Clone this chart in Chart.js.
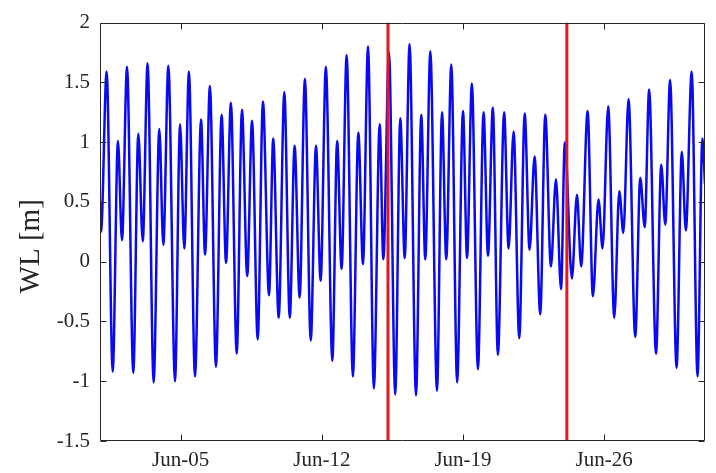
<!DOCTYPE html>
<html>
<head>
<meta charset="utf-8">
<script src="https://cdn.jsdelivr.net/npm/chart.js@4/dist/chart.umd.min.js"></script>
<style>
  html, body { margin: 0; padding: 0; background: #ffffff; }
  #wrap { width: 716px; height: 473px; }
</style>
</head>
<body>
<div id="wrap"><canvas id="c" width="716" height="473"></canvas></div>
<script>
// Time in days since Jun-01 00:00 (high/low water turning points)
const tideDay = [0.00, 0.05, 0.33, 0.63, 0.89, 1.09, 1.34, 1.65, 1.90, 2.12,
  2.36, 2.66, 2.94, 3.14, 3.39, 3.72, 3.97, 4.18, 4.41, 4.71,
  5.01, 5.21, 5.45, 5.75, 6.03, 6.25, 6.49, 6.78, 7.04, 7.30,
  7.54, 7.82, 8.08, 8.38, 8.59, 8.86, 9.14, 9.41, 9.65, 9.90,
  10.16, 10.45, 10.71, 10.94, 11.20, 11.52, 11.76, 11.98, 12.23, 12.54,
  12.81, 13.04, 13.29, 13.58, 13.87, 14.05, 14.33, 14.64, 14.89, 15.11,
  15.35, 15.67, 15.93, 16.13, 16.38, 16.71, 16.96, 17.17, 17.42, 17.71,
  18.00, 18.20, 18.44, 18.74, 19.02, 19.24, 19.48, 19.73, 20.04, 20.26,
  20.51, 20.79, 21.06, 21.30, 21.55, 21.83, 22.08, 22.36, 22.61, 22.86,
  23.05, 23.40, 23.65, 23.86, 24.18, 24.44, 24.72, 24.92, 25.20, 25.50,
  25.75, 25.95, 26.21, 26.54, 26.79, 27.01, 27.23, 27.57, 27.83, 28.03,
  28.27, 28.59, 28.85, 29.05, 29.34, 29.63, 29.87, 30.00];

// Water level [m]
const tideWL = [0.50, 0.25, 1.59, -0.92, 1.01, 0.18, 1.63, -0.93, 1.07, 0.17,
  1.66, -1.01, 1.11, 0.14, 1.64, -1.00, 1.15, 0.11, 1.59, -0.96,
  1.19, 0.06, 1.47, -0.88, 1.23, -0.01, 1.33, -0.77, 1.27, -0.12,
  1.18, -0.65, 1.34, -0.28, 1.03, -0.47, 1.42, -0.47, 0.97, -0.30,
  1.53, -0.66, 0.97, -0.16, 1.63, -0.83, 1.01, -0.06, 1.73, -0.96,
  1.08, -0.02, 1.80, -1.06, 1.15, 0.02, 1.75, -1.11, 1.20, 0.03,
  1.82, -1.12, 1.23, 0.02, 1.76, -1.08, 1.25, 0.02, 1.65, -1.01,
  1.26, 0.03, 1.49, -0.90, 1.25, 0.05, 1.29, -0.78, 1.25, 0.11,
  1.09, -0.64, 1.24, 0.10, 0.88, -0.44, 1.23, -0.04, 0.69, -0.23,
  1.00, -0.14, 0.56, -0.04, 1.26, -0.29, 0.52, 0.11, 1.30, -0.47,
  0.59, 0.24, 1.36, -0.63, 0.70, 0.29, 1.44, -0.77, 0.81, 0.31,
  1.52, -0.89, 0.92, 0.26, 1.59, -0.96, 1.03, 0.65];

// Red marker lines (days since Jun-01 00:00)
const markerDays = [14.28, 23.15];

// Axis ticks
const xTickDays = [4, 11, 18, 25];
const xTickLabels = ['Jun-05', 'Jun-12', 'Jun-19', 'Jun-26'];
const yTicks = [-1.5, -1, -0.5, 0, 0.5, 1, 1.5, 2];
const yTickLabels = ['-1.5', '-1', '-0.5', '0', '0.5', '1', '1.5', '2'];
const xRange = [0, 30];
const yRange = [-1.5, 2];

const AXIS_COLOR = '#262626';
const FONT = '"Liberation Serif", "DejaVu Serif", serif';

const framePlugin = {
  id: 'matlabFrame',
  afterDraw(chart) {
    const { ctx, chartArea: a, scales } = chart;
    const L = Math.round(a.left) + 0.5, R = Math.round(a.right) - 0.5;
    const T = Math.round(a.top) + 0.5, B = Math.round(a.bottom) - 0.5;
    const tl = 6;
    ctx.save();
    ctx.strokeStyle = AXIS_COLOR;
    ctx.lineWidth = 1;
    ctx.beginPath();
    ctx.rect(L, T, R - L, B - T);
    scales.x.ticks.forEach(t => {
      const px = Math.round(scales.x.getPixelForValue(t.value)) + 0.5;
      ctx.moveTo(px, B); ctx.lineTo(px, B - tl);
      ctx.moveTo(px, T); ctx.lineTo(px, T + tl);
    });
    scales.y.ticks.forEach(t => {
      const py = Math.round(scales.y.getPixelForValue(t.value)) + 0.5;
      ctx.moveTo(L, py); ctx.lineTo(L + tl, py);
      ctx.moveTo(R, py); ctx.lineTo(R - tl, py);
    });
    ctx.stroke();
    ctx.restore();
  }
};

const datasets = [{
  label: 'WL',
  data: tideDay.map((d, i) => ({ x: d, y: tideWL[i] })),
  borderColor: '#0a0af0',
  borderWidth: 2.5,
  pointRadius: 0,
  fill: false,
  cubicInterpolationMode: 'monotone',
  order: 2
}];
markerDays.forEach(d => datasets.push({
  label: 'marker',
  data: [{ x: d, y: yRange[0] }, { x: d, y: yRange[1] }],
  borderColor: '#e3191c',
  borderWidth: 3,
  pointRadius: 0,
  fill: false,
  order: 1
}));

new Chart(document.getElementById('c'), {
  type: 'line',
  data: { datasets },
  options: {
    responsive: false,
    animation: false,
    events: [],
    layout: { padding: { top: 13, right: 11, left: 0, bottom: 0 } },
    plugins: { legend: { display: false }, tooltip: { enabled: false } },
    scales: {
      x: {
        type: 'linear',
        min: xRange[0], max: xRange[1],
        afterBuildTicks: s => { s.ticks = xTickDays.map(v => ({ value: v })); },
        afterFit: s => { s.height = 32; },
        ticks: {
          autoSkip: false, maxRotation: 0, minRotation: 0,
          padding: 7,
          color: AXIS_COLOR,
          font: { family: FONT, size: 21 },
          callback: (v) => xTickLabels[xTickDays.indexOf(v)]
        },
        grid: { display: false, drawTicks: false },
        border: { display: false }
      },
      y: {
        type: 'linear',
        min: yRange[0], max: yRange[1],
        afterBuildTicks: s => { s.ticks = yTicks.map(v => ({ value: v })); },
        afterFit: s => { s.width = 100; },
        ticks: {
          padding: 10,
          color: AXIS_COLOR,
          font: { family: FONT, size: 21 },
          callback: (v) => yTickLabels[yTicks.indexOf(v)]
        },
        grid: { display: false, drawTicks: false },
        border: { display: false },
        title: {
          display: true,
          text: 'WL [m]    ',
          color: AXIS_COLOR,
          font: { family: FONT, size: 29 },
          padding: { top: 14, bottom: 0 }
        }
      }
    }
  },
  plugins: [framePlugin]
});
</script>
</body>
</html>
